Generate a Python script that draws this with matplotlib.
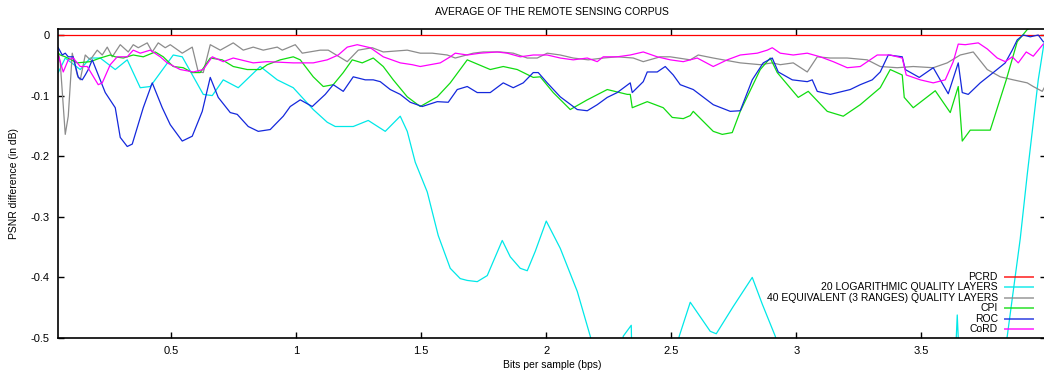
import matplotlib
matplotlib.use("Agg")
import matplotlib.pyplot as plt

plt.rcParams['font.family'] = ['Liberation Sans', 'DejaVu Sans']

# PCRD is the reference (zero everywhere)
pcrd_x = [0.047, 4.0]
pcrd_y = [0.0, 0.0]

# 20 logarithmic quality layers (values below -0.5 are cut by the axis)
log20_x = [0.048, 0.076, 0.136, 0.176, 0.216, 0.276, 0.324, 0.376, 0.416, 0.508,
           0.544, 0.628, 0.664, 0.708, 0.768, 0.856, 0.924, 0.988, 1.068, 1.124,
           1.156, 1.228, 1.288, 1.356, 1.416, 1.444, 1.476, 1.524, 1.568, 1.616,
           1.656, 1.684, 1.724, 1.764, 1.824, 1.856, 1.896, 1.924, 1.956, 2.0,
           2.056, 2.124, 2.176, 2.216, 2.296, 2.308, 2.34, 2.344, 2.496, 2.532,
           2.576, 2.656, 2.68, 2.748, 2.824, 2.864, 2.916, 2.956, 3.616, 3.64,
           3.644, 3.648, 3.656, 3.816, 3.844, 3.896, 3.924, 3.968, 3.992]
log20_y = [-0.062, -0.038, -0.057, -0.038, -0.038, -0.057, -0.041, -0.087, -0.085, -0.033,
           -0.036, -0.098, -0.100, -0.074, -0.087, -0.052, -0.074, -0.087, -0.123, -0.144,
           -0.151, -0.151, -0.141, -0.159, -0.134, -0.159, -0.210, -0.259, -0.331, -0.385,
           -0.402, -0.405, -0.407, -0.397, -0.339, -0.366, -0.385, -0.389, -0.357, -0.307,
           -0.352, -0.423, -0.497, -0.566, -0.566, -0.497, -0.479, -0.566, -0.566, -0.497,
           -0.441, -0.489, -0.493, -0.448, -0.400, -0.444, -0.497, -0.566, -0.566, -0.500,
           -0.462, -0.500, -0.566, -0.566, -0.497, -0.336, -0.230, -0.074, -0.011]

# 40 equivalent (3 ranges) quality layers
eq40_x = [0.048, 0.056, 0.076, 0.088, 0.104, 0.124, 0.136, 0.156, 0.176, 0.204,
          0.224, 0.244, 0.264, 0.296, 0.328, 0.348, 0.368, 0.404, 0.424, 0.448,
          0.476, 0.496, 0.544, 0.584, 0.608, 0.628, 0.656, 0.696, 0.748, 0.788,
          0.828, 0.868, 0.924, 0.944, 0.996, 1.024, 1.096, 1.128, 1.204, 1.248,
          1.304, 1.348, 1.444, 1.496, 1.544, 1.604, 1.636, 1.708, 1.748, 1.816,
          1.868, 1.924, 1.964, 2.004, 2.056, 2.108, 2.168, 2.228, 2.284, 2.348,
          2.388, 2.456, 2.496, 2.576, 2.608, 2.668, 2.708, 2.776, 2.856, 2.904,
          2.936, 2.988, 3.044, 3.084, 3.136, 3.204, 3.284, 3.336, 3.404, 3.468,
          3.548, 3.604, 3.656, 3.708, 3.764, 3.816, 3.868, 3.924, 3.948, 3.984,
          3.992]
eq40_y = [-0.028, -0.046, -0.164, -0.134, -0.030, -0.066, -0.074, -0.033, -0.041, -0.025,
          -0.033, -0.020, -0.036, -0.016, -0.028, -0.016, -0.021, -0.013, -0.028, -0.013,
          -0.021, -0.016, -0.030, -0.020, -0.061, -0.062, -0.016, -0.025, -0.013, -0.025,
          -0.020, -0.025, -0.020, -0.025, -0.016, -0.030, -0.025, -0.025, -0.044, -0.025,
          -0.021, -0.028, -0.025, -0.030, -0.030, -0.033, -0.038, -0.030, -0.028, -0.028,
          -0.030, -0.038, -0.038, -0.030, -0.033, -0.038, -0.041, -0.038, -0.036, -0.038,
          -0.044, -0.036, -0.036, -0.041, -0.033, -0.038, -0.041, -0.046, -0.049, -0.046,
          -0.049, -0.046, -0.061, -0.036, -0.038, -0.038, -0.041, -0.052, -0.054, -0.052,
          -0.054, -0.046, -0.033, -0.028, -0.057, -0.069, -0.074, -0.079, -0.085, -0.093,
          -0.087]

# CPI
cpi_x = [0.048, 0.056, 0.076, 0.124, 0.176, 0.216, 0.256, 0.276, 0.308, 0.348,
         0.388, 0.436, 0.468, 0.508, 0.548, 0.584, 0.616, 0.656, 0.704, 0.748,
         0.804, 0.856, 0.884, 0.936, 0.988, 1.016, 1.068, 1.108, 1.148, 1.188,
         1.224, 1.264, 1.308, 1.348, 1.388, 1.444, 1.496, 1.564, 1.616, 1.684,
         1.776, 1.828, 1.884, 1.948, 1.976, 2.028, 2.096, 2.164, 2.244, 2.324,
         2.336, 2.344, 2.404, 2.468, 2.504, 2.548, 2.576, 2.588, 2.668, 2.704,
         2.744, 2.776, 2.856, 2.896, 2.924, 3.008, 3.048, 3.124, 3.188, 3.256,
         3.336, 3.376, 3.424, 3.432, 3.468, 3.556, 3.616, 3.648, 3.664, 3.696,
         3.776, 3.84, 3.884, 3.924, 3.956, 3.99]
cpi_y = [-0.030, -0.033, -0.036, -0.046, -0.044, -0.038, -0.033, -0.036, -0.038, -0.033,
         -0.036, -0.028, -0.036, -0.052, -0.054, -0.062, -0.062, -0.038, -0.041, -0.052,
         -0.057, -0.057, -0.049, -0.041, -0.036, -0.041, -0.069, -0.085, -0.082, -0.062,
         -0.041, -0.046, -0.038, -0.052, -0.074, -0.102, -0.118, -0.102, -0.079, -0.041,
         -0.057, -0.052, -0.057, -0.070, -0.069, -0.095, -0.123, -0.107, -0.090, -0.098,
         -0.098, -0.120, -0.110, -0.120, -0.136, -0.138, -0.133, -0.126, -0.159, -0.164,
         -0.161, -0.126, -0.057, -0.038, -0.062, -0.103, -0.093, -0.126, -0.134, -0.115,
         -0.087, -0.057, -0.066, -0.103, -0.120, -0.092, -0.128, -0.085, -0.175, -0.157,
         -0.157, -0.074, -0.011, 0.009, 0.016, 0.02]

# ROC
roc_x = [0.048, 0.064, 0.076, 0.088, 0.108, 0.128, 0.144, 0.156, 0.168, 0.184,
         0.236, 0.276, 0.296, 0.324, 0.344, 0.388, 0.424, 0.464, 0.496, 0.544,
         0.584, 0.624, 0.656, 0.688, 0.736, 0.764, 0.808, 0.848, 0.896, 0.948,
         0.976, 1.016, 1.064, 1.116, 1.148, 1.188, 1.228, 1.276, 1.308, 1.336,
         1.376, 1.416, 1.456, 1.504, 1.564, 1.608, 1.644, 1.684, 1.724, 1.776,
         1.828, 1.868, 1.908, 1.948, 1.968, 2.004, 2.056, 2.124, 2.164, 2.204,
         2.244, 2.284, 2.336, 2.344, 2.388, 2.404, 2.444, 2.476, 2.508, 2.536,
         2.588, 2.668, 2.736, 2.776, 2.824, 2.868, 2.904, 2.928, 2.984, 3.044,
         3.064, 3.084, 3.136, 3.216, 3.256, 3.304, 3.336, 3.368, 3.424, 3.436,
         3.492, 3.548, 3.608, 3.648, 3.664, 3.688, 3.736, 3.788, 3.836, 3.864,
         3.884, 3.908, 3.936, 3.968, 3.988]
roc_y = [-0.021, -0.033, -0.030, -0.036, -0.036, -0.070, -0.074, -0.066, -0.057, -0.041,
         -0.095, -0.120, -0.169, -0.184, -0.180, -0.120, -0.079, -0.120, -0.148, -0.175,
         -0.167, -0.126, -0.070, -0.103, -0.128, -0.131, -0.151, -0.159, -0.156, -0.134,
         -0.118, -0.107, -0.118, -0.098, -0.082, -0.093, -0.069, -0.074, -0.074, -0.077,
         -0.090, -0.098, -0.111, -0.118, -0.110, -0.111, -0.090, -0.085, -0.095, -0.095,
         -0.079, -0.087, -0.079, -0.062, -0.062, -0.079, -0.102, -0.123, -0.125, -0.115,
         -0.103, -0.095, -0.079, -0.095, -0.077, -0.061, -0.061, -0.052, -0.066, -0.082,
         -0.090, -0.115, -0.126, -0.125, -0.074, -0.046, -0.038, -0.061, -0.074, -0.077,
         -0.074, -0.093, -0.098, -0.090, -0.082, -0.074, -0.061, -0.033, -0.036, -0.057,
         -0.070, -0.054, -0.097, -0.046, -0.095, -0.098, -0.079, -0.062, -0.046, -0.025,
         -0.008, 0.000, -0.003, 0.000, -0.011]

# CoRD
cord_x = [0.048, 0.068, 0.088, 0.108, 0.136, 0.164, 0.208, 0.224, 0.256, 0.284,
          0.324, 0.348, 0.376, 0.416, 0.456, 0.484, 0.536, 0.588, 0.628, 0.664,
          0.708, 0.748, 0.828, 0.884, 0.988, 1.068, 1.124, 1.168, 1.204, 1.244,
          1.296, 1.348, 1.416, 1.464, 1.496, 1.536, 1.576, 1.616, 1.636, 1.684,
          1.736, 1.804, 1.844, 1.896, 1.948, 2.004, 2.056, 2.108, 2.164, 2.204,
          2.228, 2.284, 2.336, 2.388, 2.444, 2.496, 2.548, 2.604, 2.668, 2.724,
          2.776, 2.844, 2.884, 2.904, 2.936, 2.988, 3.044, 3.096, 3.148, 3.204,
          3.256, 3.324, 3.376, 3.424, 3.44, 3.496, 3.548, 3.596, 3.628, 3.648,
          3.676, 3.728, 3.764, 3.804, 3.836, 3.864, 3.888, 3.92, 3.948, 3.988]
cord_y = [-0.033, -0.061, -0.041, -0.038, -0.052, -0.052, -0.082, -0.079, -0.049, -0.036,
          -0.036, -0.025, -0.030, -0.025, -0.036, -0.046, -0.057, -0.061, -0.057, -0.036,
          -0.044, -0.038, -0.046, -0.044, -0.046, -0.046, -0.041, -0.033, -0.020, -0.016,
          -0.021, -0.036, -0.046, -0.049, -0.052, -0.049, -0.046, -0.036, -0.030, -0.033,
          -0.030, -0.028, -0.030, -0.036, -0.033, -0.033, -0.038, -0.041, -0.038, -0.044,
          -0.036, -0.036, -0.033, -0.028, -0.036, -0.041, -0.044, -0.038, -0.052, -0.041,
          -0.033, -0.030, -0.025, -0.021, -0.030, -0.033, -0.030, -0.036, -0.044, -0.054,
          -0.052, -0.033, -0.033, -0.038, -0.066, -0.074, -0.079, -0.074, -0.044, -0.015,
          -0.016, -0.013, -0.023, -0.038, -0.044, -0.036, -0.046, -0.028, -0.035, -0.015]

labels = ["PCRD", "20 LOGARITHMIC QUALITY LAYERS",
          "40 EQUIVALENT (3 RANGES) QUALITY LAYERS", "CPI", "ROC", "CoRD"]
colors = ["#ff0000", "#00e8e8", "#8c8c8c", "#10dc10", "#1428dc", "#ff00ff"]

fig = plt.figure(figsize=(10.44, 3.70), dpi=100)
ax = fig.add_axes([58 / 1044, 1 - 338 / 370, 988.25 / 1044, 308.7 / 370])

series = [(pcrd_x, pcrd_y), (log20_x, log20_y), (eq40_x, eq40_y),
          (cpi_x, cpi_y), (roc_x, roc_y), (cord_x, cord_y)]
for (xs, ys), c in zip(series, colors):
    ax.plot(xs, ys, color=c, lw=0.9)

ax.set_xlim(0.047, 4.0)
ax.set_ylim(-0.5, 0.0094)
ax.set_xticks([0.5, 1, 1.5, 2, 2.5, 3, 3.5])
ax.set_xticklabels(["0.5", "1", "1.5", "2", "2.5", "3", "3.5"])
ax.set_yticks([0, -0.1, -0.2, -0.3, -0.4, -0.5])
ax.set_yticklabels(["0", "-0.1", "-0.2", "-0.3", "-0.4", "-0.5"])
ax.tick_params(direction="in", length=4, width=1, top=True, right=True,
               labelsize=8, pad=6)
for s in ax.spines.values():
    s.set_linewidth(1.2)

ax.set_xlabel("Bits per sample (bps)", fontsize=7.5, labelpad=3)
ax.set_ylabel("PSNR difference (in dB)", fontsize=7.5, labelpad=8)
fig.text(0.5287, 1 - 12 / 370, "AVERAGE OF THE REMOTE SENSING CORPUS",
         ha="center", va="center", fontsize=7.5)

# key, drawn like gnuplot: right aligned text, sample line to its right
for i, (lab, c) in enumerate(zip(labels, colors)):
    yy = 0.1976 - i * 0.0337
    ax.text(0.951, yy, lab, transform=ax.transAxes, ha="right", va="center",
            fontsize=7.5)
    ax.plot([0.958, 0.987], [yy, yy], transform=ax.transAxes, color=c,
            lw=1.4, alpha=0.7)

fig.savefig("out.png", dpi=100)
